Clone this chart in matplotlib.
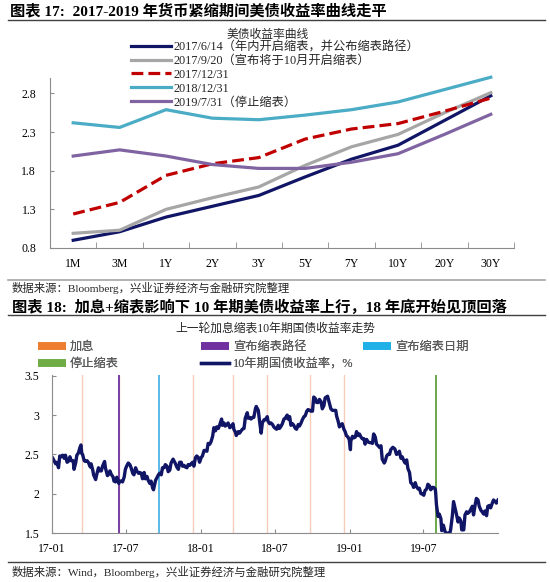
import datetime as dt
import matplotlib
matplotlib.use('Agg')
import matplotlib.pyplot as plt
import matplotlib.dates as mdates
from matplotlib.lines import Line2D

plt.rcParams['font.family'] = ['Liberation Serif', 'Noto Sans CJK SC']

W, H = 550, 582

# ---- chart 17: yield curves ----
tenors = ['1M', '3M', '1Y', '2Y', '3Y', '5Y', '7Y', '10Y', '20Y', '30Y']
curve_170614 = [0.90, 1.01, 1.20, 1.34, 1.48, 1.72, 1.95, 2.13, 2.45, 2.77]
curve_170920 = [0.99, 1.03, 1.30, 1.45, 1.59, 1.87, 2.11, 2.27, 2.55, 2.81]
curve_171231 = [1.24, 1.39, 1.74, 1.89, 1.97, 2.21, 2.34, 2.41, 2.57, 2.74]
curve_181231 = [2.42, 2.36, 2.59, 2.48, 2.46, 2.52, 2.59, 2.69, 2.85, 3.01]
curve_190731 = [1.99, 2.07, 1.99, 1.88, 1.83, 1.83, 1.91, 2.02, 2.27, 2.53]
curve_labels = ['2017/6/14（年内开启缩表，并公布缩表路径）',
                '2017/9/20（宣布将于10月开启缩表）',
                '2017/12/31', '2018/12/31', '2019/7/31（停止缩表）']

# ---- chart 18: 10y yield ----
d2017 = ['01-03', '01-06', '01-10', '01-13', '01-17', '01-20', '01-24', '01-27', '01-31', '02-03',
         '02-07', '02-10', '02-14', '02-17', '02-22', '02-24', '02-28', '03-03', '03-07', '03-10',
         '03-13', '03-15', '03-17', '03-21', '03-24', '03-28', '03-31', '04-05', '04-07', '04-11',
         '04-13', '04-18', '04-21', '04-25', '04-28', '05-02', '05-05', '05-10', '05-12', '05-17',
         '05-19', '05-23', '05-26', '05-31', '06-02', '06-06', '06-09', '06-14', '06-16', '06-20',
         '06-23', '06-27', '06-30', '07-03', '07-07', '07-11', '07-14', '07-18', '07-21', '07-25',
         '07-28', '08-01', '08-04', '08-08', '08-11', '08-15', '08-18', '08-22', '08-25', '08-29',
         '09-01', '09-05', '09-07', '09-12', '09-15', '09-19', '09-22', '09-26', '09-29', '10-03',
         '10-06', '10-10', '10-13', '10-17', '10-20', '10-25', '10-27', '10-31', '11-03', '11-07',
         '11-10', '11-14', '11-17', '11-21', '11-24', '11-28', '12-01', '12-05', '12-08', '12-12',
         '12-15', '12-19', '12-22', '12-26', '12-29']
v2017 = [2.45, 2.42, 2.38, 2.40, 2.33, 2.48, 2.47, 2.49, 2.45, 2.49,
         2.40, 2.41, 2.47, 2.42, 2.42, 2.31, 2.39, 2.49, 2.52, 2.58,
         2.62, 2.51, 2.50, 2.42, 2.41, 2.42, 2.40, 2.34, 2.38, 2.30,
         2.24, 2.18, 2.25, 2.33, 2.29, 2.29, 2.35, 2.41, 2.33, 2.23,
         2.24, 2.29, 2.25, 2.21, 2.16, 2.15, 2.21, 2.13, 2.16, 2.16,
         2.15, 2.21, 2.31, 2.35, 2.39, 2.37, 2.33, 2.26, 2.24, 2.33,
         2.29, 2.26, 2.27, 2.26, 2.19, 2.27, 2.19, 2.22, 2.17, 2.13,
         2.16, 2.07, 2.05, 2.17, 2.20, 2.24, 2.26, 2.24, 2.33, 2.33,
         2.37, 2.35, 2.28, 2.30, 2.39, 2.44, 2.42, 2.38, 2.34, 2.31,
         2.40, 2.40, 2.35, 2.36, 2.34, 2.33, 2.37, 2.36, 2.38, 2.40,
         2.35, 2.46, 2.48, 2.46, 2.40]
d2018 = ['01-02', '01-05', '01-09', '01-12', '01-16', '01-19', '01-23', '01-26', '01-30', '02-02',
         '02-06', '02-09', '02-13', '02-16', '02-21', '02-23', '02-27', '03-02', '03-06', '03-09',
         '03-13', '03-16', '03-21', '03-23', '03-27', '03-29', '04-03', '04-06', '04-10', '04-13',
         '04-17', '04-20', '04-25', '04-27', '05-01', '05-04', '05-08', '05-11', '05-15', '05-17',
         '05-22', '05-25', '05-29', '06-01', '06-05', '06-08', '06-13', '06-15', '06-19', '06-22',
         '06-26', '06-29', '07-03', '07-06', '07-10', '07-13', '07-17', '07-20', '07-24', '07-27',
         '08-01', '08-03', '08-07', '08-10', '08-14', '08-17', '08-21', '08-24', '08-28', '08-31',
         '09-04', '09-07', '09-11', '09-14', '09-18', '09-21', '09-26', '09-28', '10-02', '10-05',
         '10-09', '10-12', '10-16', '10-19', '10-23', '10-26', '10-30', '11-02', '11-08', '11-13',
         '11-16', '11-20', '11-23', '11-28', '11-30', '12-04', '12-07', '12-11', '12-14', '12-18',
         '12-21', '12-24', '12-28', '12-31']
v2018 = [2.46, 2.48, 2.55, 2.55, 2.54, 2.64, 2.63, 2.66, 2.73, 2.84,
         2.80, 2.85, 2.83, 2.87, 2.95, 2.87, 2.90, 2.86, 2.88, 2.90,
         2.84, 2.85, 2.89, 2.82, 2.78, 2.74, 2.79, 2.77, 2.80, 2.82,
         2.83, 2.96, 3.03, 2.96, 2.97, 2.95, 2.97, 2.97, 3.08, 3.11,
         3.06, 2.93, 2.77, 2.90, 2.94, 2.94, 2.98, 2.92, 2.89, 2.90,
         2.88, 2.85, 2.83, 2.82, 2.87, 2.83, 2.86, 2.89, 2.95, 2.96,
         3.00, 2.95, 2.98, 2.87, 2.89, 2.87, 2.83, 2.82, 2.88, 2.86,
         2.90, 2.94, 2.98, 2.99, 3.05, 3.07, 3.06, 3.05, 3.05, 3.23,
         3.21, 3.16, 3.16, 3.20, 3.17, 3.08, 3.12, 3.22, 3.24, 3.14,
         3.08, 3.06, 3.06, 3.06, 2.99, 2.92, 2.85, 2.88, 2.89, 2.82,
         2.79, 2.74, 2.72, 2.69]
d2019 = ['01-03', '01-04', '01-08', '01-11', '01-15', '01-18', '01-22', '01-25', '01-29', '02-01',
         '02-05', '02-08', '02-12', '02-15', '02-19', '02-22', '02-26', '03-01', '03-05', '03-08',
         '03-12', '03-15', '03-19', '03-22', '03-27', '03-29', '04-02', '04-05', '04-09', '04-12',
         '04-17', '04-22', '04-26', '04-30', '05-03', '05-07', '05-10', '05-14', '05-17', '05-21',
         '05-24', '05-28', '05-31', '06-04', '06-07', '06-11', '06-14', '06-18', '06-21', '06-25',
         '06-28', '07-02', '07-05', '07-09', '07-12', '07-16', '07-19', '07-23', '07-26', '07-30',
         '07-31', '08-02', '08-06', '08-09', '08-13', '08-15', '08-19', '08-23', '08-28', '08-30',
         '09-03', '09-06', '09-10', '09-13', '09-17', '09-20', '09-24', '09-27', '10-01', '10-03',
         '10-08', '10-11', '10-15', '10-18', '10-22', '10-25', '10-29', '11-01', '11-05', '11-08',
         '11-12', '11-15', '11-19', '11-22', '11-26', '11-29', '12-03', '12-06', '12-10', '12-13',
         '12-17', '12-20', '12-24', '12-27', '12-31']
v2019 = [2.56, 2.67, 2.73, 2.71, 2.72, 2.79, 2.74, 2.76, 2.72, 2.70,
         2.70, 2.63, 2.69, 2.66, 2.65, 2.65, 2.64, 2.76, 2.72, 2.63,
         2.61, 2.59, 2.61, 2.44, 2.39, 2.41, 2.48, 2.50, 2.50, 2.56,
         2.59, 2.57, 2.50, 2.51, 2.54, 2.45, 2.47, 2.42, 2.39, 2.43,
         2.32, 2.27, 2.14, 2.12, 2.08, 2.14, 2.09, 2.06, 2.07, 2.00,
         2.00, 1.98, 2.04, 2.06, 2.12, 2.10, 2.05, 2.08, 2.08, 2.06,
         2.02, 1.86, 1.71, 1.74, 1.68, 1.53, 1.60, 1.52, 1.47, 1.50,
         1.47, 1.55, 1.72, 1.90, 1.81, 1.74, 1.64, 1.69, 1.65, 1.54,
         1.54, 1.73, 1.77, 1.75, 1.77, 1.80, 1.84, 1.73, 1.86, 1.94,
         1.92, 1.84, 1.79, 1.77, 1.74, 1.78, 1.72, 1.84, 1.85, 1.82,
         1.88, 1.92, 1.90, 1.88, 1.92]

hike_dates = ['2017-03-15', '2017-06-14', '2017-12-13', '2018-03-21',
              '2018-06-13', '2018-09-26', '2018-12-19']
taper_path_date = '2017-06-14'
taper_start_date = '2017-09-20'
taper_stop_date = '2019-07-31'


def fx(x):
    return x / W


def fy(y):
    return 1 - y / H


def to_dates(year, md_list):
    return [dt.date.fromisoformat(f'{year}-{md}') for md in md_list]


dates = to_dates(2017, d2017) + to_dates(2018, d2018) + to_dates(2019, d2019)
yields = v2017 + v2018 + v2019

fig = plt.figure(figsize=(W / 100, H / 100), dpi=100)
spine_col = '#8C8C8C'

# header texts and rules
fig.text(fx(10), fy(11), '图表 17:  2017-2019 年货币紧缩期间美债收益率曲线走平',
         fontsize=11, fontweight='bold', va='center', ha='left')
fig.text(fx(268), fy(35), '美债收益率曲线', fontsize=8.5, ha='center', va='center', color='#262626')
fig.text(fx(12), fy(288), '数据来源：Bloomberg，兴业证券经济与金融研究院整理',
         fontsize=8.2, ha='left', va='center', color='#262626')
fig.text(fx(12), fy(307), '图表 18:  加息+缩表影响下 10 年期美债收益率上行，18 年底开始见顶回落',
         fontsize=11, fontweight='bold', va='center', ha='left')
fig.text(fx(275), fy(329), '上一轮加息缩表10年期国债收益率走势', fontsize=8.5,
         ha='center', va='center', color='#262626')
fig.text(fx(12), fy(572), '数据来源：Wind，Bloomberg，兴业证券经济与金融研究院整理',
         fontsize=8.2, ha='left', va='center', color='#262626')

for yy, col, lw in [(20, '#404040', 1.0), (280, '#A6A6A6', 1.2), (315, '#404040', 1.0), (562, '#404040', 1.0)]:
    fig.add_artist(Line2D([fx(8), fx(545)], [fy(yy), fy(yy)], color=col, lw=lw))

# ---- chart 17 ----
ax1 = fig.add_axes([fx(50), fy(248), fx(514) - fx(50), fy(78) - fy(248)])
xpos = list(range(len(tenors)))
styles = [
    (curve_170614, '#111566', '-'),
    (curve_170920, '#A6A6A6', '-'),
    (curve_171231, '#C00000', '--'),
    (curve_181231, '#4BACC6', '-'),
    (curve_190731, '#8064A2', '-'),
]
handles1 = []
for (vals, col, ls), lab in zip(styles, curve_labels):
    ln, = ax1.plot(xpos, vals, color=col, ls=ls, lw=2.3, label=lab, clip_on=False)
    handles1.append(ln)

ax1.set_xlim(-0.5, len(tenors) - 0.5)
ax1.set_ylim(0.8, 3.0)
ax1.set_yticks([0.8, 1.3, 1.8, 2.3, 2.8])
ax1.set_yticklabels(['0.8', '1.3', '1.8', '2.3', '2.8'])
ax1.set_xticks(xpos)
ax1.set_xticklabels(tenors)
ax1.set_xticks([i - 0.5 for i in range(len(tenors) + 1)], minor=True)
ax1.tick_params(axis='x', which='major', length=0, pad=7, labelsize=8.5)
ax1.tick_params(axis='x', which='minor', direction='in', length=4, color=spine_col)
ax1.tick_params(axis='y', direction='in', length=3, color=spine_col, pad=10, labelsize=8.5)
for s in ['top', 'right']:
    ax1.spines[s].set_visible(False)
for s in ['left', 'bottom']:
    ax1.spines[s].set_color(spine_col)

fig.legend(handles=handles1, loc='upper left', bbox_to_anchor=(fx(131), fy(41)),
           frameon=False, fontsize=8.8, handlelength=3.3, handletextpad=0.2,
           labelspacing=0.15, borderpad=0, borderaxespad=0, labelcolor='#262626')

# ---- chart 18 ----
ax2 = fig.add_axes([fx(52), fy(533), fx(498) - fx(52), fy(375) - fy(533)])
hike_col = '#F5CDB8'
for d in hike_dates:
    ax2.axvline(dt.date.fromisoformat(d), color=hike_col, lw=1.0)
ax2.axvline(dt.date.fromisoformat(taper_path_date), color='#7030A0', lw=1.3)
ax2.axvline(dt.date.fromisoformat(taper_start_date), color='#4EB3E6', lw=1.3)
ax2.axvline(dt.date.fromisoformat(taper_stop_date), color='#5FA03A', lw=1.3)
ax2.plot(dates, yields, color='#111566', lw=2.4)

ax2.set_xlim(dt.date(2017, 1, 1), dt.date(2019, 12, 31))
ax2.set_ylim(1.5, 3.51)
ax2.set_yticks([1.5, 2.0, 2.5, 3.0, 3.5])
ax2.set_yticklabels(['1.5', '2', '2.5', '3', '3.5'])
ax2.xaxis.set_major_locator(mdates.MonthLocator(bymonth=[1, 7]))
ax2.xaxis.set_major_formatter(mdates.DateFormatter('%y-%m'))
ax2.tick_params(axis='x', direction='in', length=3, color=spine_col, pad=7, labelsize=8.5)
ax2.tick_params(axis='y', direction='in', length=3, color=spine_col, pad=9, labelsize=8.5)
for s in ['top', 'right']:
    ax2.spines[s].set_visible(False)
for s in ['left', 'bottom']:
    ax2.spines[s].set_color(spine_col)


def bar_handle(col):
    return Line2D([], [], color=col, lw=5.5, solid_capstyle='butt')


legend_cols = [
    (38, [bar_handle('#ED7D31'), bar_handle('#70AD47')], ['加息', '停止缩表']),
    (201, [bar_handle('#7030A0'), Line2D([], [], color='#111566', lw=2.4)],
     ['宣布缩表路径', '10年期国债收益率，%']),
    (363, [bar_handle('#1FB0E8')], ['宣布缩表日期']),
]
for x0, hs, labs in legend_cols:
    leg = fig.legend(handles=hs, labels=labs, loc='upper left', bbox_to_anchor=(fx(x0), fy(341)),
                     frameon=False, fontsize=8.8, handlelength=2.3, handletextpad=0.3,
                     labelspacing=0.4, borderpad=0, borderaxespad=0, labelcolor='#595959')
    fig.add_artist(leg)

fig.savefig('out.png', dpi=100)
